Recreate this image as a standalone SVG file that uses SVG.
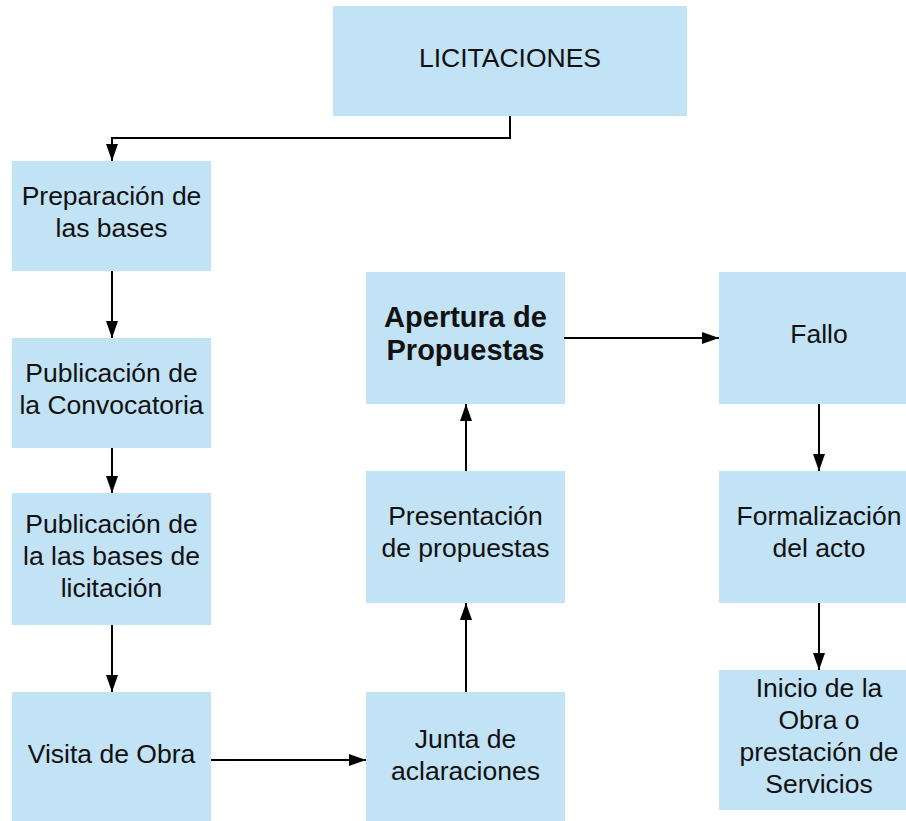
<svg xmlns="http://www.w3.org/2000/svg" width="906" height="821" viewBox="0 0 906 821">
<defs>
<style>
.box{fill:#c2e2f5;}
.t{font-family:"Liberation Sans",Arial,sans-serif;font-size:26.5px;fill:#111;text-anchor:middle;}
.b{font-weight:bold;font-size:29px;}
.c{fill:none;stroke:#000;stroke-width:2;marker-end:url(#ah);}
</style>
<marker id="ah" markerUnits="userSpaceOnUse" markerWidth="17" markerHeight="12" refX="17" refY="6" orient="auto">
<path d="M0,0 L17,6 L0,12 Z" fill="#000"/>
</marker>
</defs>
<rect width="906" height="821" fill="#fff"/>
<g id="n-licitaciones"><rect class="box" x="333" y="6" width="354" height="110"/><text class="t" x="510" y="67">LICITACIONES</text></g>
<g id="n-preparacion"><rect class="box" x="12" y="161" width="199" height="110"/><text class="t" x="111.5" y="205">Preparación de</text><text class="t" x="111.5" y="237">las bases</text></g>
<g id="n-convocatoria"><rect class="box" x="12" y="338" width="199" height="110"/><text class="t" x="111.5" y="382">Publicación de</text><text class="t" x="111.5" y="414">la Convocatoria</text></g>
<g id="n-bases"><rect class="box" x="12" y="493" width="199" height="132"/><text class="t" x="111.5" y="533">Publicación de</text><text class="t" x="111.5" y="565">la las bases de</text><text class="t" x="111.5" y="597">licitación</text></g>
<g id="n-visita"><rect class="box" x="12" y="692" width="199" height="132"/><text class="t" x="111.5" y="763">Visita de Obra</text></g>
<g id="n-junta"><rect class="box" x="366" y="692" width="199" height="132"/><text class="t" x="465.5" y="748">Junta de</text><text class="t" x="465.5" y="780">aclaraciones</text></g>
<g id="n-presentacion"><rect class="box" x="366" y="471" width="199" height="132"/><text class="t" x="465.5" y="525">Presentación</text><text class="t" x="465.5" y="557">de propuestas</text></g>
<g id="n-apertura"><rect class="box" x="366" y="272" width="199" height="132"/><text class="t b" x="465.5" y="327">Apertura de</text><text class="t b" x="465.5" y="360">Propuestas</text></g>
<g id="n-fallo"><rect class="box" x="719" y="272" width="200" height="132"/><text class="t" x="819" y="343">Fallo</text></g>
<g id="n-formalizacion"><rect class="box" x="719" y="471" width="200" height="132"/><text class="t" x="819" y="525">Formalización</text><text class="t" x="819" y="557">del acto</text></g>
<g id="n-inicio"><rect class="box" x="719" y="670" width="200" height="140"/><text class="t" x="819" y="697">Inicio de la</text><text class="t" x="819" y="729">Obra o</text><text class="t" x="819" y="761">prestación de</text><text class="t" x="819" y="793">Servicios</text></g>
<g id="connectors">
<path class="c" d="M510,116 V138 H112 V161"/>
<path class="c" d="M112,271 V338"/>
<path class="c" d="M112,448 V493"/>
<path class="c" d="M112,625 V692"/>
<path class="c" d="M211,760 H366"/>
<path class="c" d="M466,692 V603"/>
<path class="c" d="M466,471 V404"/>
<path class="c" d="M564,338 H719"/>
<path class="c" d="M819,404 V471"/>
<path class="c" d="M819,603 V670"/>
</g>
</svg>
